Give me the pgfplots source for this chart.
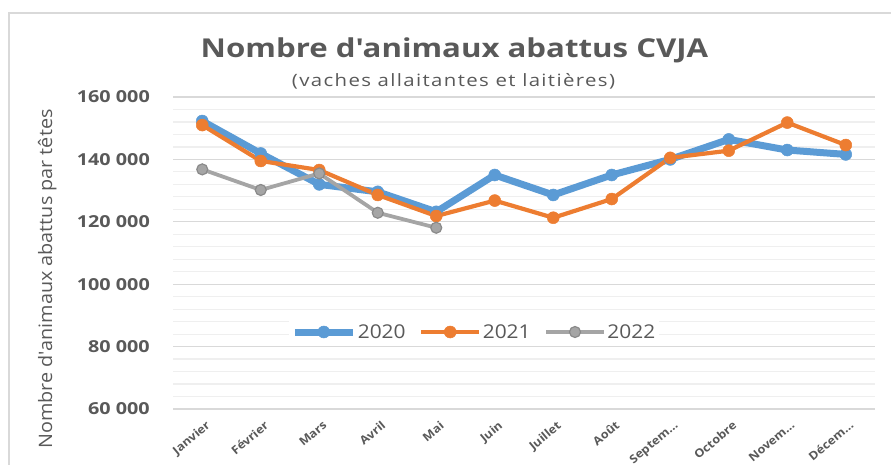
\documentclass[border=0pt]{standalone}
\usepackage{pgfplots}
\pgfplotsset{compat=1.18}
\usepackage{fontspec}
\setmainfont{Open Sans}[Ligatures=TeXOff]
\newfontfamily\titlefont{Open Sans}[FakeStretch=1.2,Ligatures=TeXOff]
\newfontfamily\subfont{Open Sans}[FakeStretch=1.2,LetterSpace=8,Ligatures=TeXOff]
\newfontfamily\ylabfont{Open Sans}[FakeStretch=1.07,Ligatures=TeXOff]
\newfontfamily\tickfont{Open Sans}[FakeStretch=1.2,Ligatures=TeXOff]
\newfontfamily\xtickfont{Open Sans}[FakeStretch=1.1,Ligatures=TeXOff]
\newfontfamily\legfont{Open Sans}[FakeStretch=1.1,Ligatures=TeXOff]
\definecolor{cblue}{HTML}{5B9BD5}
\definecolor{corange}{HTML}{ED7D31}
\definecolor{cgray}{HTML}{A5A5A5}
\definecolor{cgrayedge}{HTML}{8A8A8A}
\definecolor{tgray}{HTML}{595959}
\definecolor{majgrid}{HTML}{D9D9D9}
\definecolor{mingrid}{HTML}{EFEFEF}
\definecolor{bordergray}{HTML}{D9D9D9}
\begin{document}
\begin{tikzpicture}
\useasboundingbox (0pt,0pt) rectangle (891pt,464pt);
\draw[color=bordergray, line width=1.2pt] (9pt,-20pt) rectangle (920pt,451pt);
\node[font=\titlefont\fontsize{26}{30}\selectfont\bfseries, text=tgray, anchor=base] at (454.5pt,406pt) {Nombre d'animaux abattus CVJA};
\node[font=\subfont\fontsize{17}{20}\selectfont, text=tgray, anchor=base] at (453.5pt,377pt) {(vaches allaitantes et laitières)};
\node[font=\ylabfont\fontsize{18.5}{22}\selectfont, text=tgray, rotate=90, anchor=base] at (52pt,185pt) {Nombre d'animaux abattus par têtes};
\begin{axis}[at={(173pt,55pt)}, anchor=south west, width=702pt, height=312pt, scale only axis,
  xmin=-0.5, xmax=11.5, ymin=60000, ymax=160000,
  xtick={0,...,11},
  xticklabels={Janvier,Février,Mars,Avril,Mai,Juin,Juillet,Août,{Septem…\hspace{-5pt}},Octobre,{Novem…\hspace{-5pt}},{Décem…\hspace{-5pt}}},
  ytick={60000,80000,...,160000},
  yticklabels={60 000,80 000,100 000,120 000,140 000,160 000},
  minor y tick num=4,
  ymajorgrids, yminorgrids,
  major grid style={color=majgrid, line width=1.2pt},
  minor grid style={color=mingrid, line width=1.2pt},
  axis line style={draw=none},
  major tick length=0pt, minor tick length=0pt,
  scaled y ticks=false,
  yticklabel style={font=\tickfont\fontsize{16.5}{18}\selectfont\bfseries, text=tgray, anchor=east, inner sep=0pt, xshift=-23pt},
  xticklabel style={xshift=3pt, yshift=-11pt, font=\xtickfont\fontsize{11.5}{13}\selectfont\bfseries, text=tgray, rotate=40, anchor=north east, inner sep=0pt},
  legend style={at={(0.4288,0.2468)}, anchor=center, legend columns=3, draw=none, fill=white,
    font=\legfont\fontsize{19}{22}\selectfont, text=tgray, inner sep=2pt,
    nodes={inner sep=1.5pt},
    /tikz/every even column/.append style={column sep=12pt}},
  legend cell align=left,
  legend image code/.code={\draw[mark repeat=2,mark phase=2] plot coordinates {(0pt,0pt)(29pt,0pt)(58pt,0pt)};},
  clip=false,
]
\addplot[color=cblue, line width=7pt, mark=*, mark size=6pt, mark options={fill=cblue, draw=cblue, line width=0.5pt}] coordinates {
(0,152300)(1,141900)(2,132000)(3,129600)(4,123200)(5,135000)(6,128600)(7,135000)(8,140000)(9,146400)(10,143000)(11,141600)};
\addlegendentry{2020}
\addplot[color=corange, line width=4.2pt, mark=*, mark size=6pt, mark options={fill=corange, draw=corange, line width=0.5pt}] coordinates {
(0,151000)(1,139500)(2,136600)(3,128600)(4,121850)(5,126800)(6,121300)(7,127300)(8,140500)(9,142800)(10,151800)(11,144600)};
\addlegendentry{2021}
\addplot[color=cgray, line width=3.8pt, mark=*, mark size=5.5pt, mark options={fill=cgray, draw=cgrayedge, line width=1.2pt}] coordinates {
(0,136800)(1,130200)(2,135500)(3,122900)(4,118100)};
\addlegendentry{2022}
\end{axis}
\end{tikzpicture}
\end{document}
